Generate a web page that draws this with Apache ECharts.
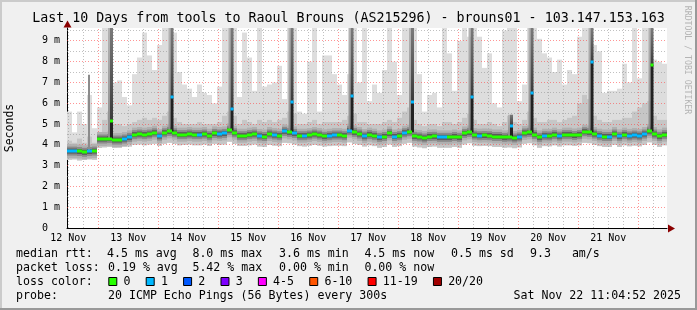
<!DOCTYPE html>
<html><head><meta charset="utf-8">
<script src="https://cdn.jsdelivr.net/npm/echarts@6/dist/echarts.min.js"></script>
<style>html,body{margin:0;padding:0;background:#f0f0f0}#c{width:697px;height:310px}</style>
</head><body><div id="c"></div>
<script>
// ---------- data (2-hour bins, starting at left edge of the 10-day window) ----------
const binHours = 2;
const median = [
 3.70,3.70,3.68,3.64,3.68,3.70,4.28,4.28,4.30,4.23,
 4.23,4.28,4.36,4.49,4.52,4.49,4.52,4.58,4.42,4.58,
 4.65,4.58,4.49,4.49,4.52,4.49,4.49,4.52,4.44,4.55,
 4.52,4.55,4.70,4.58,4.44,4.44,4.49,4.52,4.43,4.40,
 4.52,4.47,4.44,4.65,4.60,4.55,4.44,4.44,4.47,4.52,
 4.47,4.41,4.44,4.47,4.47,4.44,4.68,4.60,4.52,4.42,
 4.49,4.44,4.36,4.40,4.55,4.40,4.44,4.58,4.63,4.41,
 4.38,4.33,4.40,4.41,4.36,4.36,4.36,4.40,4.36,4.55,
 4.60,4.47,4.44,4.45,4.44,4.40,4.40,4.36,4.38,4.33,
 4.38,4.57,4.60,4.49,4.36,4.44,4.43,4.49,4.42,4.49,
 4.49,4.45,4.49,4.63,4.60,4.52,4.44,4.40,4.40,4.52,
 4.41,4.49,4.43,4.47,4.43,4.52,4.66,4.52,4.41,4.49];
const loss = [
 1,1,0,0,1,0,0,0,0,0, 0,1,1,0,0,0,0,0,1,0,
 0,0,0,0,0,0,1,0,0,0, 1,1,0,0,0,0,0,0,1,0,
 0,1,0,1,0,1,0,1,0,0, 0,0,1,1,0,0,1,0,0,1,
 0,0,1,0,0,1,0,1,0,0, 0,0,0,0,1,1,0,0,0,0,
 0,0,1,0,0,0,0,0,0,0, 1,0,0,0,0,1,0,0,1,0,
 0,0,0,0,0,0,1,0,1,0, 1,0,1,1,1,1,0,0,0,0];
const smokeLow = [
 3.28,3.30,3.25,3.27,3.30,3.28,3.85,3.88,3.90,3.85,
 3.86,3.90,3.92,4.00,4.02,3.98,4.02,4.05,3.95,4.05,
 4.10,4.05,3.98,4.00,4.02,3.98,3.98,4.02,3.95,4.05,
 4.00,4.02,4.15,4.05,3.95,3.95,3.98,4.02,3.92,3.90,
 4.00,3.96,3.94,4.10,4.08,4.02,3.94,3.92,3.96,4.00,
 3.96,3.92,3.94,3.96,3.96,3.94,4.12,4.05,4.00,3.92,
 3.98,3.94,3.86,3.90,4.02,3.90,3.94,4.05,4.10,3.92,
 3.88,3.84,3.90,3.92,3.86,3.86,3.86,3.90,3.86,4.02,
 4.08,3.96,3.94,3.95,3.94,3.90,3.90,3.86,3.88,3.84,
 3.88,4.05,4.08,3.98,3.86,3.94,3.93,3.98,3.92,3.98,
 3.98,3.95,3.98,4.10,4.08,4.00,3.94,3.90,3.90,4.00,
 3.90,3.98,3.93,3.96,3.93,4.00,4.12,4.00,3.90,3.98];
const smokeMid = [
 4.2,4.1,4.3,4.1,4.4,4.1,4.6,5.2,5.6,5.0,
 5.0,4.9,5.0,5.1,5.2,5.3,5.2,5.3,5.2,5.4,
 5.6,5.3,5.1,5.0,5.0,5.0,5.1,5.0,5.0,5.0,
 5.1,5.4,5.6,5.4,5.0,5.2,5.1,5.0,5.2,5.1,
 5.2,5.1,5.2,5.3,5.6,5.5,5.0,5.0,5.1,5.2,
 5.0,5.1,5.1,5.1,5.1,5.2,5.4,5.5,5.1,5.1,
 5.0,5.0,5.0,5.1,5.2,5.1,5.3,5.6,5.8,5.2,
 5.0,4.9,5.0,5.0,4.9,5.1,5.1,5.0,5.1,5.3,
 5.5,5.2,5.0,5.0,5.1,5.0,4.9,5.1,5.4,5.1,
 5.0,5.2,5.6,5.3,5.1,5.1,5.2,5.2,5.1,5.2,
 5.3,5.4,6.0,6.4,6.2,5.4,5.2,5.1,5.1,5.2,
 5.2,5.3,5.3,5.6,5.8,6.0,6.1,5.4,5.2,5.2];
const smokeHigh = [
 5.6,4.6,5.6,5.0,6.4,4.8,5.8,9.62,9.62,7.0,
 7.1,6.3,5.9,7.4,8.2,9.4,8.3,7.6,8.8,9.62,
 9.62,9.4,7.5,6.9,6.7,6.3,6.9,6.5,6.4,6.0,
 6.8,9.62,9.62,9.62,6.3,9.4,8.2,6.6,9.62,6.8,
 6.9,7.0,7.8,6.2,9.62,9.62,5.6,5.5,8.0,9.62,
 5.6,8.3,8.3,7.4,6.9,6.4,7.4,9.62,7.0,9.62,
 6.1,6.9,6.5,7.6,9.62,8.0,6.4,9.62,9.62,9.62,
 7.4,5.6,6.4,6.5,5.8,9.62,8.4,6.6,9.0,9.62,
 9.2,9.62,9.2,7.7,8.4,6.0,5.8,9.5,9.62,9.62,
 6.1,6.9,9.62,9.62,9.1,8.4,8.2,7.5,8.1,6.9,
 7.6,7.4,9.2,9.62,9.62,8.8,8.5,6.5,6.6,6.6,
 6.7,7.9,7.0,9.62,7.2,9.62,9.62,8.1,8.0,7.9];
// short high-latency events (hour from window start)
const spikeHour   = [17.8, 42.0, 66.0, 90.0, 114.0, 138.2, 162.0, 177.8, 186.0, 210.0, 234.0];
const spikeMedian = [5.16, 6.28, 5.73, 6.07, 6.36, 6.07, 6.31, 4.92, 6.50, 7.98, 7.85];
const spikeLoss   = [0, 1, 1, 1, 1, 1, 1, 1, 1, 1, 0];
const spikeLow    = [4.30, 4.60, 4.70, 4.60, 4.70, 4.60, 4.60, 4.40, 4.60, 4.60, 4.65];
const spikeHigh   = [9.62, 9.62, 9.62, 9.62, 9.62, 9.62, 9.62, 5.45, 9.62, 9.62, 9.62];
const thinHour = [8.8], thinLow = [3.70], thinHigh = [7.37];

const dayLabels = ['12 Nov','13 Nov','14 Nov','15 Nov','16 Nov','17 Nov','18 Nov','19 Nov','20 Nov','21 Nov'];
const firstNoonHour = 0.52;          // hour of 12 Nov 12:00 from left edge
const yTickLabels = ['0  ','1 m','2 m','3 m','4 m','5 m','6 m','7 m','8 m','9 m'];
const yMax = 9.62, totalHours = 240;

const lossColors = ['#26ff00','#00b8ff','#0059ff','#7e00ff','#ff00ff','#ff5500','#ff0000','#a10000'];
const lossLabels = ['0','1','2','3','4-5','6-10','11-19','20/20'];
const titleText = 'Last 10 Days from tools to Raoul Brouns (AS215296) - brouns01 - 103.147.153.163';
const statRow1 = [['median rtt:',16],['4.5 ms avg',107],['8.0 ms max',192.4],['3.6 ms min',279],['4.5 ms now',364.4],['0.5 ms sd',451],['9.3   am/s',530]];
const statRow2 = [['packet loss:',16],['0.19 % avg',108],['5.42 % max',192.4],['0.00 % min',279],['0.00 % now',364.4]];
const probeText = '20 ICMP Echo Pings (56 Bytes) every 300s';
const stampText = 'Sat Nov 22 11:04:52 2025';

// ---------- derived tables ----------
const FONT = "'DejaVu Sans Mono', monospace";
const dayLabelHours = dayLabels.map((d, k) => firstNoonHour + 24 * k);
const vGrid = [];
for (let h = firstNoonHour, k = 0; h < totalHours; h += 6, k++) vGrid.push([h, k % 4 === 2 ? 1 : 0]);
const hGrid = [];
for (let k = 1; k * 0.5 < yMax; k++) hGrid.push([k * 0.5, k % 2 === 0 ? 1 : 0]);
const smokeData = median.map((m, i) => [i * binHours, m, smokeLow[i], smokeMid[i], smokeHigh[i], loss[i]]);
const spikeData = spikeHour.map((h, i) => [h, spikeMedian[i], spikeLow[i], spikeHigh[i], spikeLoss[i]]);
const thinData = thinHour.map((h, i) => [h, thinLow[i], thinHigh[i]]);

function rect(x, y, w, h, fill) { return {type: 'rect', shape: {x, y, width: w, height: h}, style: {fill}}; }
function vGrad(top, bottom) {
  return new echarts.graphic.LinearGradient(0, 0, 0, 1, [{offset: 0, color: top}, {offset: 1, color: bottom}]);
}

const smokeSeries = {
  type: 'custom', z: 2, silent: true, clip: true, data: smokeData, encode: {x: 0, y: 1},
  renderItem(params, api) {
    const x0 = api.value(0), x1 = x0 + binHours;
    const pLo = api.coord([x0, api.value(2)]);
    const pMid = api.coord([x1, api.value(3)]);
    const pHi = api.coord([x1, api.value(4)]);
    const w = pHi[0] - pLo[0];
    return {type: 'group', children: [
      rect(pLo[0], pHi[1], w, pLo[1] - pHi[1], '#dddddd'),
      rect(pLo[0], pMid[1], w, pLo[1] - pMid[1], '#c6c6c6')
    ]};
  }
};
const coreSeries = {
  type: 'custom', z: 5, silent: true, clip: true, data: smokeData, encode: {x: 0, y: 1},
  renderItem(params, api) {
    const x0 = api.value(0), x1 = x0 + binHours;
    const a = api.coord([x0, api.value(1)]), b = api.coord([x1, api.value(1)]);
    const w = b[0] - a[0], y = a[1];
    return {type: 'group', children: [
      rect(a[0], y - 7, w, 14, '#b0b0b0'),
      rect(a[0], y - 4.5, w, 9, '#8a8a8a'),
      rect(a[0], y - 2.5, w, 5, '#5a5a5a')
    ]};
  }
};
const medianSeries = {
  type: 'custom', z: 8, silent: true, clip: true, data: smokeData, encode: {x: 0, y: 1},
  renderItem(params, api) {
    const x0 = api.value(0), x1 = x0 + binHours;
    const a = api.coord([x0, api.value(1)]), b = api.coord([x1, api.value(1)]);
    return rect(a[0], Math.round(a[1]) - 1.5, b[0] - a[0], 3, lossColors[api.value(5)]);
  }
};
const gridVSeries = {
  type: 'custom', z: 4, silent: true, clip: true, data: vGrid, encode: {x: 0, y: 1},
  renderItem(params, api) {
    const p = api.coord([api.value(0), 0]), q = api.coord([api.value(0), yMax]);
    const x = Math.floor(p[0]) + 0.5;
    return {type: 'line', shape: {x1: x, y1: p[1], x2: x, y2: q[1]},
      style: {stroke: api.value(1) ? 'rgba(255,60,60,0.55)' : 'rgba(150,150,150,0.6)', lineWidth: 1, lineDash: [1, 2]}};
  }
};
const gridHSeries = {
  type: 'custom', z: 4, silent: true, clip: true, data: hGrid, encode: {x: 1, y: 0},
  renderItem(params, api) {
    const p = api.coord([0, api.value(0)]), q = api.coord([totalHours, api.value(0)]);
    const y = Math.floor(p[1]) + 0.5;
    return {type: 'line', shape: {x1: p[0], y1: y, x2: q[0], y2: y},
      style: {stroke: api.value(1) ? 'rgba(255,60,60,0.55)' : 'rgba(150,150,150,0.6)', lineWidth: 1, lineDash: [1, 2]}};
  }
};
const spikeSeries = {
  type: 'custom', z: 6, silent: true, clip: true, data: spikeData, encode: {x: 0, y: 1},
  renderItem(params, api) {
    const h = api.value(0);
    const m = api.coord([h, api.value(1)]), lo = api.coord([h, api.value(2)]), hi = api.coord([h, api.value(3)]);
    const x = m[0];
    return {type: 'group', children: [
      {type: 'rect', shape: {x: x - 3.5, y: hi[1], width: 2, height: lo[1] - hi[1]}, style: {fill: vGrad('#b4b4b4', '#8a8a8a')}},
      {type: 'rect', shape: {x: x - 1.5, y: hi[1], width: 3, height: m[1] - hi[1]}, style: {fill: vGrad('#7a7a7a', '#3a3a3a')}},
      rect(x - 1.5, m[1], 3, lo[1] - m[1], '#222222')
    ]};
  }
};
const spikeMarkSeries = {
  type: 'custom', z: 9, silent: true, clip: true, data: spikeData, encode: {x: 0, y: 1},
  renderItem(params, api) {
    const m = api.coord([api.value(0), api.value(1)]);
    return rect(m[0] - 1.5, Math.round(m[1]) - 1.5, 3, 3, lossColors[api.value(4)]);
  }
};
const thinSeries = {
  type: 'custom', z: 6, silent: true, clip: true, data: thinData, encode: {x: 0, y: 1},
  renderItem(params, api) {
    const lo = api.coord([api.value(0), api.value(1)]), hi = api.coord([api.value(0), api.value(2)]);
    return rect(lo[0] - 1, hi[1], 2, lo[1] - hi[1], '#8c8c8c');
  }
};

// ---------- graphic texts / decoration ----------
const graphics = [
  {type: 'rect', shape: {x: 0, y: 0, width: 697, height: 2}, style: {fill: '#cbcbcb'}, silent: true},
  {type: 'rect', shape: {x: 0, y: 0, width: 2, height: 310}, style: {fill: '#cbcbcb'}, silent: true},
  {type: 'rect', shape: {x: 0, y: 308, width: 697, height: 2}, style: {fill: '#999999'}, silent: true},
  {type: 'rect', shape: {x: 695, y: 0, width: 2, height: 310}, style: {fill: '#999999'}, silent: true},
  {type: 'text', x: 348.5, y: 19, style: {text: titleText, font: '13.3px ' + FONT, fill: '#000', textAlign: 'center', textVerticalAlign: 'middle'}, silent: true},
  {type: 'text', x: 10, y: 128, rotation: Math.PI / 2, style: {text: 'Seconds', font: '11.5px ' + FONT, fill: '#000', textAlign: 'center', textVerticalAlign: 'middle'}, silent: true},
  {type: 'text', x: 687, y: 60, rotation: -Math.PI / 2, style: {text: 'RRDTOOL / TOBI OETIKER', font: '8.2px ' + FONT, fill: '#b4b4b4', textAlign: 'center', textVerticalAlign: 'middle'}, silent: true},
  {type: 'polygon', shape: {points: [[63.5, 27.5], [67.5, 20.5], [71.5, 27.5]]}, style: {fill: '#8b0000'}, z: 100, silent: true},
  {type: 'polygon', shape: {points: [[668, 224.5], [675, 228.5], [668, 232.5]]}, style: {fill: '#8b0000'}, z: 100, silent: true}
];
const LF = '11.6px ' + FONT;
function txt(s, x, y, align) {
  return {type: 'text', x, y, style: {text: s, font: LF, fill: '#000', textAlign: align || 'left', textVerticalAlign: 'middle'}, silent: true};
}
statRow1.forEach(([s, x]) => graphics.push(txt(s, x, 254)));
statRow2.forEach(([s, x]) => graphics.push(txt(s, x, 268)));
graphics.push(txt('loss color:', 16, 282));
let lx = 108.3;
lossLabels.forEach((lab, k) => {
  graphics.push({type: 'rect', shape: {x: lx + 0.5, y: 277.5, width: 8, height: 8}, style: {fill: lossColors[k], stroke: '#000', lineWidth: 1}, silent: true});
  graphics.push(txt(lab, lx + 15.2, 282));
  lx += 15.2 + lab.length * 6.99 + 15.2;
});
graphics.push(txt('probe:', 16, 296));
graphics.push(txt(probeText, 108, 296));
graphics.push(txt(stampText, 681, 296, 'right'));

const chart = echarts.init(document.getElementById('c'), null, {renderer: 'canvas', width: 697, height: 310});
chart.setOption({
  animation: false,
  backgroundColor: '#f0f0f0',
  grid: {left: 67, right: 30, top: 28, bottom: 82, show: true, backgroundColor: '#ffffff', borderWidth: 0},
  xAxis: {
    type: 'value', min: 0, max: totalHours,
    axisLine: {show: true, lineStyle: {color: '#000', width: 1}},
    axisTick: {show: false}, splitLine: {show: false},
    axisLabel: {customValues: dayLabelHours, formatter: v => dayLabels[Math.round((v - firstNoonHour) / 24)] || '',
      fontFamily: FONT, fontSize: 10, color: '#000', margin: 5}
  },
  yAxis: {
    type: 'value', min: 0, max: yMax, interval: 1,
    axisLine: {show: true, lineStyle: {color: '#000', width: 1}},
    axisTick: {show: false}, splitLine: {show: false},
    axisLabel: {formatter: v => (Number.isInteger(v) && yTickLabels[v]) || '', fontFamily: FONT, fontSize: 10, color: '#000', margin: 7,
      showMaxLabel: false}
  },
  graphic: graphics,
  series: [smokeSeries, gridVSeries, gridHSeries, coreSeries, thinSeries, spikeSeries, medianSeries, spikeMarkSeries]
});
</script></body></html>
